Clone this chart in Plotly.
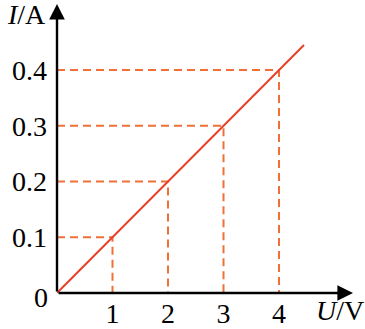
import plotly.graph_objects as go

U_vals = [1, 2, 3, 4]
I_vals = [0.1, 0.2, 0.3, 0.4]
line_U = [0, 4.45]
line_I = [0, 0.445]
x_ticks = [1, 2, 3, 4]
x_ticktext = ["1", "2", "3", "4"]
y_ticks = [0.1, 0.2, 0.3, 0.4]
y_ticktext = ["0.1", "0.2", "0.3", "0.4"]

FONT = "Liberation Serif"
FS = 28
DASH_COLOR = "#f07038"
LINE_COLOR = "#e8402a"

fig = go.Figure()

for u, i in zip(U_vals, I_vals):
    fig.add_trace(go.Scatter(x=[0, u, u], y=[i, i, 0], mode="lines",
                             line=dict(color=DASH_COLOR, width=2, dash="8px,5px"),
                             hoverinfo="skip", showlegend=False))

fig.add_trace(go.Scatter(x=line_U, y=line_I, mode="lines",
                         line=dict(color=LINE_COLOR, width=2),
                         hoverinfo="skip", showlegend=False))

W, H = 365, 329
ml, mb = 57, 33
px_per_x = 55.5
px_per_y = 563.0
xmax = (W - ml) / px_per_x
ymax = (H - mb) / px_per_y
pw = W - ml

fig.update_layout(
    width=W, height=H,
    margin=dict(l=ml, r=0, t=0, b=mb),
    paper_bgcolor="white", plot_bgcolor="white",
    xaxis=dict(range=[0, xmax], showgrid=False, zeroline=False, showline=False,
               tickvals=x_ticks, ticktext=x_ticktext, ticks="", ticklen=0,
               ticklabelstandoff=1,
               tickfont=dict(family=FONT, size=FS, color="black")),
    yaxis=dict(range=[0, ymax], showgrid=False, zeroline=False, showline=False,
               tickvals=y_ticks, ticktext=y_ticktext, ticks="", ticklen=0,
               ticklabelstandoff=9,
               tickfont=dict(family=FONT, size=FS, color="black")),
)

# axes with arrows
fig.add_annotation(x=(353 - ml) / px_per_x, y=0, ax=0, ay=0, xref="x", yref="y",
                   axref="x", ayref="y", showarrow=True, arrowhead=2, arrowsize=1.3,
                   arrowwidth=2.4, arrowcolor="black", text="")
fig.add_annotation(x=0, y=(H - mb - 4) / px_per_y, ax=0, ay=0, xref="x", yref="y",
                   axref="x", ayref="y", showarrow=True, arrowhead=2, arrowsize=1.3,
                   arrowwidth=2.4, arrowcolor="black", text="")

fig.add_annotation(x=-8 / pw, y=0, xref="paper", yref="paper", text="0", showarrow=False,
                   xanchor="right", yanchor="middle", yshift=-4, borderpad=0,
                   font=dict(family=FONT, size=FS, color="black"))
fig.add_annotation(x=0, y=1, xref="paper", yref="paper", text="<i>I</i>/A", showarrow=False,
                   xanchor="right", yanchor="top", xshift=-10, yshift=2, borderpad=0,
                   font=dict(family=FONT, size=FS, color="black"))
fig.add_annotation(x=1, y=0, xref="paper", yref="paper", text="<i>U</i>/V", showarrow=False,
                   xanchor="right", yanchor="top", yshift=-1, borderpad=0,
                   font=dict(family=FONT, size=FS, color="black"))

fig.write_html("out.html")
